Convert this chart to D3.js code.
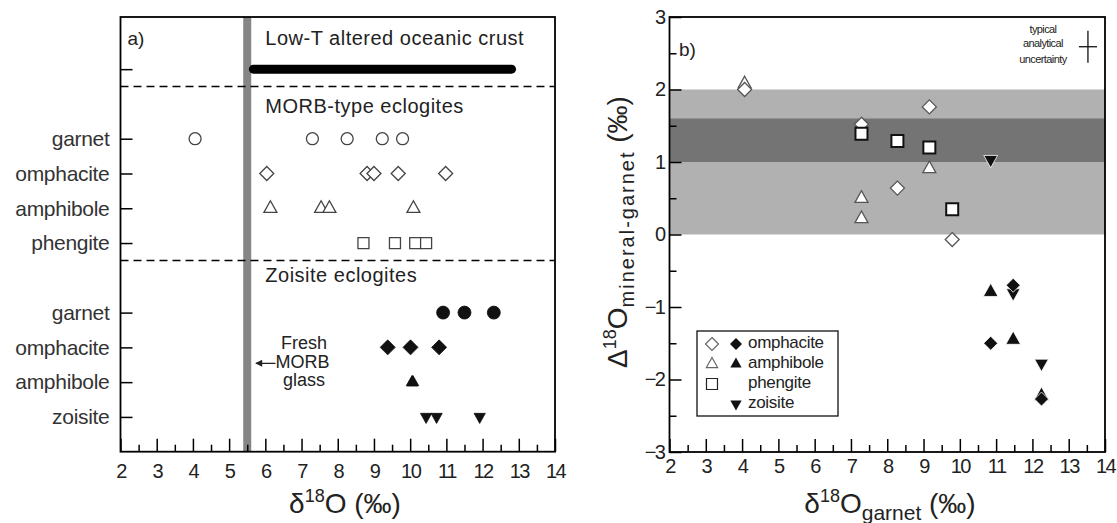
<!DOCTYPE html>
<html><head><meta charset="utf-8">
<script src="https://cdn.jsdelivr.net/npm/d3@7"></script>
<style>
html,body{margin:0;padding:0;background:#fff;}
svg{display:block;font-family:"Liberation Sans",Arial,Helvetica,sans-serif;}
</style></head><body>
<svg id="chart" width="1117" height="523"></svg>
<script>
// ================= DATA =================
// Panel a) : delta18O (permil) per mineral row
const xTicksMajor = [2,3,4,5,6,7,8,9,10,11,12,13,14];
const xTicksMinor = [2.5,3.5,4.5,5.5,6.5,7.5,8.5,9.5,10.5,11.5,12.5,13.5];
const rowLabelsA = ["garnet","omphacite","amphibole","phengite","garnet","omphacite","amphibole","zoisite"];
const rowPosA    = [3.5,4.5,5.5,6.5,8.5,9.5,10.5,11.5];
const lowTRow = 1.5;
const lowTRange = [5.67, 12.8];
const freshMorbGlass = 5.5;
const sectionDividers = [2.0, 7.0];

const morbGarnet     = [4.06, 7.30, 8.26, 9.23, 9.79];
const morbOmphacite  = [6.04, 8.81, 9.00, 9.67, 10.98];
const morbAmphibole  = [6.14, 7.54, 7.77, 10.09];
const morbPhengite   = [8.71, 9.58, 10.14, 10.44];
const zoiGarnet      = [10.91, 11.50, 12.31];
const zoiOmphacite   = [9.38, 10.01, 10.80];
const zoiAmphibole   = [10.05, 10.06, 10.08];
const zoiZoisite     = [10.44, 10.73, 11.92];

// Panel b) : delta18O garnet (x) vs Delta18O mineral-garnet (y)
const yTicksB = [-3,-2,-1,0,1,2,3];
const yMinorB = [-2.5,-1.5,-0.5,0.5,1.5,2.5];
const bandLight = [0, 2];
const bandDark  = [1.0, 1.6];

const omphOpenX  = [4.07, 7.29, 8.28, 9.16, 9.79];
const omphOpenY  = [2.00, 1.52, 0.64, 1.76, -0.07];
const amphOpenX  = [4.07, 7.29, 7.29, 9.16];
const amphOpenY  = [2.08, 0.50, 0.22, 0.91];
const phenX      = [7.29, 8.28, 9.16, 9.79];
const phenY      = [1.39, 1.29, 1.20, 0.35];
const omphFillX  = [10.85, 11.47, 12.25];
const omphFillY  = [-1.50, -0.70, -2.27];
const amphFillX  = [10.85, 11.47, 12.25];
const amphFillY  = [-0.79, -1.45, -2.22];
const zoisFillX  = [10.85, 11.47, 12.25];
const zoisFillY  = [1.03, -0.81, -1.78];

const uncertaintyCenter = [13.53, 2.59]; // cross position
const uncertaintyHalf   = [0.25, 0.22];  // half-widths in data units

// ================= HELPERS =================
function sym(type, r){
  switch(type){
    case "circle": { const p=d3.path(); p.moveTo(r,0); p.arc(0,0,r,0,2*Math.PI); p.closePath(); return p.toString(); }
    case "diamond": return `M0,${-r}L${r},0L0,${r}L${-r},0Z`;
    case "up": return `M0,${-r}L${0.866*r},${0.55*r}L${-0.866*r},${0.55*r}Z`;
    case "down": return `M0,${r}L${0.866*r},${-0.55*r}L${-0.866*r},${-0.55*r}Z`;
    case "square": return `M${-r},${-r}h${2*r}v${2*r}h${-2*r}Z`;
  }
}
const svg = d3.select("#chart");
const FONT = '"Liberation Sans",Arial,Helvetica,sans-serif';

// ================= PANEL A =================
const xA = d3.scaleLinear().domain([2,14]).range([120.5,555]);
const yA = d3.scaleLinear().domain([0,12.5]).range([17,451.7]);
const gA = svg.append("g");

// fresh MORB glass line
gA.append("line").attr("x1",xA(freshMorbGlass)).attr("x2",xA(freshMorbGlass))
  .attr("y1",yA(0)).attr("y2",yA(12.5)).attr("stroke","#858585").attr("stroke-width",8);

// dashed dividers
gA.selectAll("line.div").data(sectionDividers).join("line").attr("class","div")
  .attr("x1",xA(2)).attr("x2",xA(14)).attr("y1",d=>yA(d)).attr("y2",d=>yA(d))
  .attr("stroke","#000").attr("stroke-width",1.5).attr("stroke-dasharray","8,5");

// low-T bar
gA.append("line").attr("x1",xA(lowTRange[0])).attr("x2",xA(lowTRange[1]))
  .attr("y1",yA(lowTRow)).attr("y2",yA(lowTRow)).attr("stroke","#000").attr("stroke-width",9).attr("stroke-linecap","round");

// axes
const axA = d3.axisBottom(xA).tickValues(xTicksMajor).tickSize(-13).tickPadding(12).tickFormat(d3.format("d"));
const axAm = d3.axisBottom(xA).tickValues(xTicksMinor).tickSize(-7).tickFormat("");
function styleAxis(g, fs){
  g.select(".domain").remove();
  g.selectAll(".tick line").attr("stroke","#000").attr("stroke-width",1.5);
  g.selectAll(".tick text").attr("font-family",FONT).attr("font-size",fs).attr("fill","#222").attr("letter-spacing","-1.5");
}
gA.append("g").attr("transform",`translate(0,${yA(12.5)})`).call(axA).call(g=>styleAxis(g,20));
gA.append("g").attr("transform",`translate(0,${yA(12.5)})`).call(axAm).call(g=>styleAxis(g,20));
const rowTicks = [lowTRow].concat(rowPosA);
const labelMap = new Map(rowPosA.map((p,i)=>[p,rowLabelsA[i]]));
const ayA = d3.axisLeft(yA).tickValues(rowTicks).tickSize(-12).tickPadding(11).tickFormat(d=>labelMap.get(d)||"");
gA.append("g").attr("transform",`translate(${xA(2)},0)`).call(ayA).call(g=>{
  styleAxis(g,21); g.selectAll(".tick text").attr("letter-spacing","-0.3").attr("fill","#333");
});

// frame
gA.append("rect").attr("x",xA(2)).attr("y",yA(0)).attr("width",xA(14)-xA(2)).attr("height",yA(12.5)-yA(0))
  .attr("fill","none").attr("stroke","#000").attr("stroke-width",1.8);

// texts
function txt(g,x,y,s,fs,anchor){ return g.append("text").attr("x",x).attr("y",y).attr("font-family",FONT)
  .attr("font-size",fs).attr("fill","#222").attr("text-anchor",anchor||"start").attr("dominant-baseline","middle").text(s); }
txt(gA,xA(2.19),yA(0.66),"a)",19);
txt(gA,xA(6.0),yA(0.66),"Low-T altered oceanic crust",20).attr("letter-spacing","0.5");
txt(gA,xA(6.0),yA(2.62),"MORB-type eclogites",20).attr("letter-spacing","0.5");
txt(gA,xA(6.0),yA(7.48),"Zoisite eclogites",20).attr("letter-spacing","0.5");
txt(gA,xA(7.07),yA(9.41),"Fresh",18,"middle");
txt(gA,xA(6.28),yA(9.96),"MORB",18,"start");
txt(gA,xA(7.07),yA(10.48),"glass",18,"middle");
// arrow
gA.append("line").attr("x1",xA(6.28)).attr("x2",xA(5.74)).attr("y1",yA(9.96)).attr("y2",yA(9.96)).attr("stroke","#222").attr("stroke-width",1.3);
gA.append("path").attr("d",`M${xA(5.72)},${yA(9.96)}l7,-3.5v7z`).attr("fill","#222");

// markers panel a
function markersA(vals,row,type,r,filled){
  gA.append("g").selectAll("path").data(vals).join("path")
    .attr("transform",d=>`translate(${xA(d)},${yA(row)})`).attr("d",sym(type,r))
    .attr("fill",filled?"#111":"#fff").attr("stroke",filled?"#111":"#444").attr("stroke-width",filled?0.8:1.3);
}
markersA(morbGarnet,3.5,"circle",6,false);
markersA(morbOmphacite,4.5,"diamond",7,false);
markersA(morbAmphibole,5.5,"up",7.5,false);
markersA(morbPhengite,6.5,"square",5.5,false);
markersA(zoiGarnet,8.5,"circle",6.5,true);
markersA(zoiOmphacite,9.5,"diamond",7.5,true);
markersA(zoiAmphibole,10.5,"up",6.5,true);
markersA(zoiZoisite,11.5,"down",6.5,true);

// ================= PANEL B =================
const xB = d3.scaleLinear().domain([2,14]).range([669.5,1105]);
const yB = d3.scaleLinear().domain([-3,3]).range([452,17]);
const gB = svg.append("g");

gB.append("rect").attr("x",xB(2)).attr("width",xB(14)-xB(2)).attr("y",yB(bandLight[1])).attr("height",yB(bandLight[0])-yB(bandLight[1])).attr("fill","#b1b1b1");
gB.append("rect").attr("x",xB(2)).attr("width",xB(14)-xB(2)).attr("y",yB(bandDark[1])).attr("height",yB(bandDark[0])-yB(bandDark[1])).attr("fill","#747474");

const axB = d3.axisBottom(xB).tickValues(xTicksMajor).tickSize(-13).tickPadding(7).tickFormat(d3.format("d"));
const axBm = d3.axisBottom(xB).tickValues(xTicksMinor).tickSize(-7).tickFormat("");
gB.append("g").attr("transform",`translate(0,${yB(-3)})`).call(axB).call(g=>styleAxis(g,20));
gB.append("g").attr("transform",`translate(0,${yB(-3)})`).call(axBm).call(g=>styleAxis(g,20));
const ayB = d3.axisLeft(yB).tickValues(yTicksB).tickSize(-12).tickPadding(5).tickFormat(d3.format("d"));
const ayBm = d3.axisLeft(yB).tickValues(yMinorB).tickSize(-7).tickFormat("");
gB.append("g").attr("transform",`translate(${xB(2)},0)`).call(ayB).call(g=>styleAxis(g,20));
gB.append("g").attr("transform",`translate(${xB(2)},0)`).call(ayBm).call(g=>styleAxis(g,20));

gB.append("rect").attr("x",xB(2)).attr("y",yB(3)).attr("width",xB(14)-xB(2)).attr("height",yB(-3)-yB(3))
  .attr("fill","none").attr("stroke","#000").attr("stroke-width",1.8);

txt(gB,xB(2.26),yB(2.53),"b)",19);
// uncertainty
[["typical",2.82],["analytical",2.63],["uncertainty",2.40]].forEach(([s,v])=>{
  txt(gB,xB(12.29),yB(v),s,11,"middle").attr("letter-spacing","-0.6");
});
gB.append("line").attr("x1",xB(uncertaintyCenter[0])).attr("x2",xB(uncertaintyCenter[0]))
  .attr("y1",yB(uncertaintyCenter[1]+uncertaintyHalf[1])).attr("y2",yB(uncertaintyCenter[1]-uncertaintyHalf[1])).attr("stroke","#111").attr("stroke-width",1.3);
gB.append("line").attr("x1",xB(uncertaintyCenter[0]-uncertaintyHalf[0])).attr("x2",xB(uncertaintyCenter[0]+uncertaintyHalf[0]))
  .attr("y1",yB(uncertaintyCenter[1])).attr("y2",yB(uncertaintyCenter[1])).attr("stroke","#111").attr("stroke-width",1.3);

function markersB(xs,ys,type,r,fill,stroke,sw){
  gB.append("g").selectAll("path").data(xs.map((x,i)=>[x,ys[i]])).join("path")
    .attr("transform",d=>`translate(${xB(d[0])},${yB(d[1])})`).attr("d",sym(type,r))
    .attr("fill",fill).attr("stroke",stroke).attr("stroke-width",sw);
}
markersB(amphOpenX,amphOpenY,"up",7.5,"#fff","#555",1.3);
markersB(omphOpenX,omphOpenY,"diamond",7,"#fff","#555",1.3);
markersB(phenX,phenY,"square",6,"#fff","#111",2);
markersB(zoisFillX,zoisFillY,"down",8,"#111","#fff",0.8);
markersB(amphFillX,amphFillY,"up",8.5,"#111","#fff",0.8);
markersB(omphFillX,omphFillY,"diamond",7,"#111","#fff",0.8);

// legend
const lg = gB.append("g");
lg.append("rect").attr("x",697).attr("y",331).attr("width",141).attr("height",85).attr("fill","#fff").attr("stroke","#111").attr("stroke-width",1.3);
const legRows = [
  {open:"diamond", fill:"diamond", label:"omphacite"},
  {open:"up", fill:"up", label:"amphibole"},
  {open:"square", fill:null, label:"phengite"},
  {open:null, fill:"down", label:"zoisite"}
];
legRows.forEach((r,i)=>{
  const y = 344 + i*20;
  if(r.open) lg.append("path").attr("transform",`translate(712,${y})`).attr("d",sym(r.open,r.open==="square"?5.5:6.5))
     .attr("fill","#fff").attr("stroke",r.open==="square"?"#222":"#666").attr("stroke-width",1.2);
  if(r.fill) lg.append("path").attr("transform",`translate(736,${y})`).attr("d",sym(r.fill,r.fill==="diamond"?6:6.5)).attr("fill","#111");
  txt(lg,748,y,r.label,17).attr("letter-spacing","-0.3");
});

// ================= AXIS TITLES =================
const tA = svg.append("text").attr("x",345).attr("y",513).attr("text-anchor","middle").attr("font-family",FONT).attr("font-size",28).attr("fill","#222");
tA.append("tspan").text("δ");
tA.append("tspan").attr("font-size",18).attr("dy",-11).text("18");
tA.append("tspan").attr("dy",11).text("O (‰)");

const tB = svg.append("text").attr("x",890).attr("y",513).attr("text-anchor","middle").attr("font-family",FONT).attr("font-size",28).attr("fill","#222");
tB.append("tspan").text("δ");
tB.append("tspan").attr("font-size",18).attr("dy",-11).text("18");
tB.append("tspan").attr("dy",11).text("O");
tB.append("tspan").attr("font-size",21).attr("dy",7).text("garnet");
tB.append("tspan").attr("dy",-7).text(" (‰)");

const tY = svg.append("text").attr("transform","translate(627,232) rotate(-90)").attr("text-anchor","middle")
  .attr("font-family",FONT).attr("font-size",28).attr("fill","#222");
tY.append("tspan").text("Δ");
tY.append("tspan").attr("font-size",18).attr("dy",-11).text("18");
tY.append("tspan").attr("dy",11).text("O");
tY.append("tspan").attr("font-size",20).attr("dy",7).attr("letter-spacing","2").text("mineral-garnet");
tY.append("tspan").attr("dy",-7).text(" (‰)");
</script>
</body></html>
